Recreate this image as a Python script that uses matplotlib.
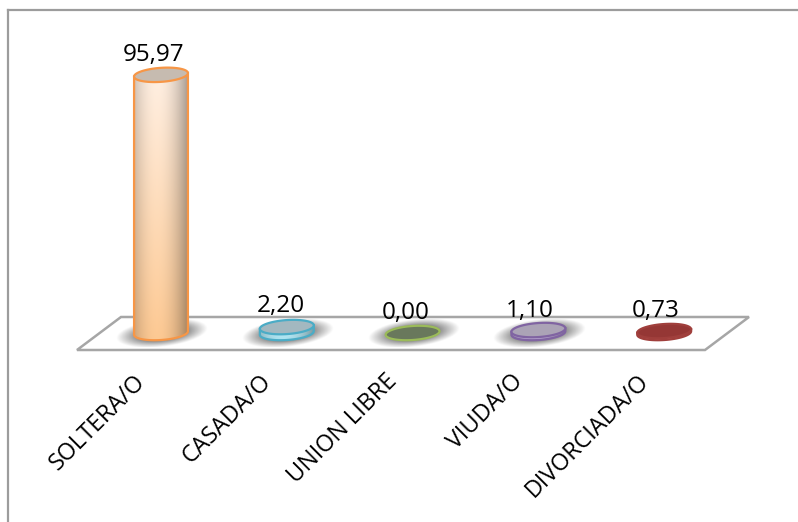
import numpy as np
import matplotlib
matplotlib.use("Agg")
import matplotlib.pyplot as plt
from matplotlib.patches import Polygon
from matplotlib.lines import Line2D

plt.rcParams['font.family'] = ['Open Sans', 'DejaVu Sans']

categories = ['SOLTERA/O', 'CASADA/O', 'UNION LIBRE', 'VIUDA/O', 'DIVORCIADA/O']
values = [95.97, 2.20, 0.00, 1.10, 0.73]
value_labels = ['95,97', '2,20', '0,00', '1,10', '0,73']

edge_colors = ['#f79646', '#4bacc6', '#9bbb59', '#8064a2', '#a03f3c']
top_colors = ['#c6bbb0', '#a3b8c0', '#69785c', '#aba3b6', '#953735']
side_top = ['#fff0e4', '#d8f0f6', '#d5e4b8', '#cfc2de', '#c0504d']
side_bottom = ['#fdc993', '#a8e2f0', '#c3d69b', '#b9a6d2', '#e0706c']
has_shadow = [True, True, True, True, False]

W, H = 798, 522
X0, DX = 161, 125.8    # pixel position of first bar, spacing of bars
Y0, DY = 333, 2.69     # pixel height of the floor, pixels per unit
RX, RY = 27, 7         # radii of the cylinder ends
TILT = np.radians(4)


def dx(px):
    return px / DX


def dy(px):
    return px / DY


def to_x(px):
    return (px - X0) / DX


def to_y(py):
    return (Y0 - py) / DY


def ellipse(i, v, n=100, a=RX, b=RY):
    t = np.linspace(0, 2 * np.pi, n)
    ex = a * np.cos(t) * np.cos(TILT) - b * np.sin(t) * np.sin(TILT)
    ey = a * np.cos(t) * np.sin(TILT) + b * np.sin(t) * np.cos(TILT)
    return i + dx(ex), v + dy(ey)


def hex_rgb(c):
    return np.array(matplotlib.colors.to_rgb(c))


fig = plt.figure(figsize=(W / 100, H / 100), dpi=100)
ax = fig.add_axes([0, 0, 1, 1])
ax.set_xlim(to_x(0), to_x(W))
ax.set_ylim(to_y(H), to_y(0))
ax.axis('off')

# outer frame, only top and left are visible
for xs, ys in [((8, W), (10, 10)), ((8, 8), (10, H))]:
    ax.add_line(Line2D(to_x(np.array(xs)), to_y(np.array(ys)), color='#9c9c9c', lw=1.6, zorder=1))

# floor of the 3d chart
floor_x = np.array([77, 121, 749, 705])
floor_y = np.array([350, 317, 317, 350])
ax.add_patch(Polygon(np.column_stack([to_x(floor_x), to_y(floor_y)]), closed=True,
                     facecolor='white', edgecolor='#a6a6a6', lw=1.8, zorder=2))

# soft shadows lying on the floor, sheared to follow the tilted ends
for i in range(5):
    if not has_shadow[i]:
        continue
    extent = [i + dx(-45), i + dx(47), dy(-14), dy(14)]
    gx, gy = np.meshgrid(np.linspace(-1, 1, 120), np.linspace(-1, 1, 60))
    r = np.sqrt(gx ** 2 + (gy - 0.35 * gx) ** 2)
    img = np.zeros((60, 120, 4))
    img[..., :3] = 0.38
    img[..., 3] = np.clip(1.6 * (1 - r), 0, 0.85)
    ax.imshow(img, extent=extent, aspect='auto', origin='lower', zorder=3, interpolation='bilinear')

for i, v in enumerate(values):
    ex, ey = ellipse(i, v)
    bx, by = ellipse(i, 0)

    # cylinder side: outline of both ends joined by a hull
    if v > 0:
        right = np.argmax(bx)
        left = np.argmin(bx)
        lower = np.r_[bx[left:], bx[1:right + 1]] if left > right else bx[left:right + 1]
        lower_y = np.r_[by[left:], by[1:right + 1]] if left > right else by[left:right + 1]
        side = np.column_stack([
            np.r_[lower, ex[right], ex[left]],
            np.r_[lower_y, ey[right], ey[left]],
        ])
        patch = Polygon(side, closed=True, facecolor='none', edgecolor=edge_colors[i],
                        lw=1.6, zorder=5)
        ax.add_patch(patch)

        # shading from the sides towards the middle and from top to bottom
        u = np.linspace(-1, 1, 80)
        w = np.linspace(0, 1, 80)
        shade = 0.66 + 0.34 * (1 - (np.abs(u + 0.15) / 1.15) ** 2)
        grad = np.zeros((80, 80, 3))
        for k in range(3):
            col = hex_rgb(side_bottom[i])[k] * (1 - w) + hex_rgb(side_top[i])[k] * w
            grad[:, :, k] = np.outer(col, shade)
        im = ax.imshow(np.clip(grad, 0, 1), extent=[i + dx(-RX), i + dx(RX), by.min(), ey.max()],
                       aspect='auto', origin='lower', zorder=4, interpolation='bilinear')
        im.set_clip_path(patch)

    # top of the cylinder
    ax.add_patch(Polygon(np.column_stack([ex, ey]), closed=True, facecolor=top_colors[i],
                         edgecolor=edge_colors[i], lw=1.6, zorder=6))

# value labels above the bars
label_dx = [-7, -6, -7, -9, -9]
label_gap = [20, 21, 20, 19, 20]
for i, v in enumerate(values):
    ax.text(i + dx(label_dx[i]), v + dy(label_gap[i]), value_labels[i], fontsize=17.5,
            color='black', ha='center', va='center', zorder=7)

# category labels under the floor
for i, name in enumerate(categories):
    ax.text(i + dx(-19), to_y(378), name, fontsize=16.8, color='black', rotation=45,
            rotation_mode='anchor', ha='right', va='center', zorder=7)

fig.savefig('out.png', dpi=100)
